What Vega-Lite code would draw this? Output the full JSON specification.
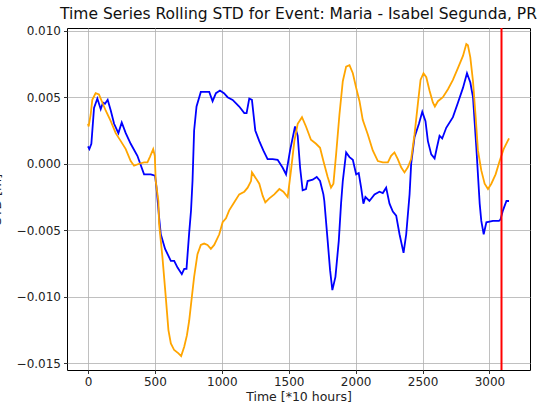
{
  "$schema": "https://vega.github.io/schema/vega-lite/v6.json",
  "width": 463,
  "height": 342,
  "autosize": {"type": "none"},
  "padding": {"left": 67, "top": 28, "right": 9, "bottom": 42},
  "background": "white",
  "title": {"text": "Time Series Rolling STD for Event: Maria - Isabel Segunda, PR", "font": "DejaVu Sans", "fontSize": 15.5, "fontWeight": "normal", "color": "#111", "anchor": "middle", "offset": 2},
  "config": {
    "view": {"stroke": "#000", "strokeWidth": 1},
    "axis": {"labelFont": "DejaVu Sans", "labelFontSize": 12, "labelColor": "#222", "titleFont": "DejaVu Sans", "titleFontSize": 12.5, "titleFontWeight": "normal", "titleColor": "#222", "gridColor": "#b0b0b0", "gridWidth": 0.8, "tickColor": "#000", "tickSize": 3.5, "tickWidth": 0.8, "domain": false, "labelPadding": 3}
  },
  "datasets": {
    "series": [
      {"t":0,"v":0.0013,"s":"obs"},{"t":10,"v":0.0011,"s":"obs"},{"t":25,"v":0.0015,"s":"obs"},{"t":45,"v":0.0042,"s":"obs"},{"t":70,"v":0.0049,"s":"obs"},{"t":95,"v":0.0041,"s":"obs"},{"t":112,"v":0.0046,"s":"obs"},{"t":127,"v":0.0045,"s":"obs"},{"t":147,"v":0.0048,"s":"obs"},{"t":170,"v":0.0040,"s":"obs"},{"t":195,"v":0.0030,"s":"obs"},{"t":227,"v":0.0023,"s":"obs"},{"t":252,"v":0.0031,"s":"obs"},{"t":282,"v":0.0023,"s":"obs"},{"t":319,"v":0.0015,"s":"obs"},{"t":369,"v":0.0006,"s":"obs"},{"t":419,"v":-0.0008,"s":"obs"},{"t":469,"v":-0.0008,"s":"obs"},{"t":501,"v":-0.0009,"s":"obs"},{"t":512,"v":-0.0018,"s":"obs"},{"t":531,"v":-0.0040,"s":"obs"},{"t":544,"v":-0.0053,"s":"obs"},{"t":576,"v":-0.0064,"s":"obs"},{"t":619,"v":-0.0073,"s":"obs"},{"t":644,"v":-0.0073,"s":"obs"},{"t":669,"v":-0.0078,"s":"obs"},{"t":701,"v":-0.0083,"s":"obs"},{"t":719,"v":-0.0079,"s":"obs"},{"t":736,"v":-0.0079,"s":"obs"},{"t":756,"v":-0.0052,"s":"obs"},{"t":770,"v":-0.0035,"s":"obs"},{"t":781,"v":-0.0013,"s":"obs"},{"t":793,"v":0.0025,"s":"obs"},{"t":811,"v":0.0043,"s":"obs"},{"t":843,"v":0.0054,"s":"obs"},{"t":906,"v":0.0054,"s":"obs"},{"t":931,"v":0.0047,"s":"obs"},{"t":956,"v":0.0053,"s":"obs"},{"t":986,"v":0.0055,"s":"obs"},{"t":1016,"v":0.0053,"s":"obs"},{"t":1043,"v":0.0050,"s":"obs"},{"t":1081,"v":0.0048,"s":"obs"},{"t":1130,"v":0.0043,"s":"obs"},{"t":1168,"v":0.0038,"s":"obs"},{"t":1185,"v":0.0038,"s":"obs"},{"t":1205,"v":0.0049,"s":"obs"},{"t":1225,"v":0.0048,"s":"obs"},{"t":1250,"v":0.0025,"s":"obs"},{"t":1280,"v":0.0017,"s":"obs"},{"t":1310,"v":0.0010,"s":"obs"},{"t":1342,"v":0.00035,"s":"obs"},{"t":1380,"v":0.00035,"s":"obs"},{"t":1417,"v":0.0003,"s":"obs"},{"t":1455,"v":-0.0003,"s":"obs"},{"t":1480,"v":-0.0008,"s":"obs"},{"t":1510,"v":0.0010,"s":"obs"},{"t":1547,"v":0.0028,"s":"obs"},{"t":1567,"v":0.0021,"s":"obs"},{"t":1585,"v":-0.0003,"s":"obs"},{"t":1604,"v":-0.0020,"s":"obs"},{"t":1629,"v":-0.0019,"s":"obs"},{"t":1641,"v":-0.0013,"s":"obs"},{"t":1679,"v":-0.0012,"s":"obs"},{"t":1709,"v":-0.0010,"s":"obs"},{"t":1734,"v":-0.0013,"s":"obs"},{"t":1759,"v":-0.0023,"s":"obs"},{"t":1766,"v":-0.0028,"s":"obs"},{"t":1791,"v":-0.0058,"s":"obs"},{"t":1809,"v":-0.0080,"s":"obs"},{"t":1826,"v":-0.0095,"s":"obs"},{"t":1849,"v":-0.0085,"s":"obs"},{"t":1874,"v":-0.0058,"s":"obs"},{"t":1891,"v":-0.0030,"s":"obs"},{"t":1904,"v":-0.0013,"s":"obs"},{"t":1929,"v":0.00085,"s":"obs"},{"t":1954,"v":0.0005,"s":"obs"},{"t":1979,"v":0.0003,"s":"obs"},{"t":2004,"v":-0.0008,"s":"obs"},{"t":2023,"v":-0.0007,"s":"obs"},{"t":2041,"v":-0.0018,"s":"obs"},{"t":2058,"v":-0.0030,"s":"obs"},{"t":2073,"v":-0.0025,"s":"obs"},{"t":2103,"v":-0.0028,"s":"obs"},{"t":2141,"v":-0.0023,"s":"obs"},{"t":2178,"v":-0.0021,"s":"obs"},{"t":2203,"v":-0.0022,"s":"obs"},{"t":2228,"v":-0.0018,"s":"obs"},{"t":2253,"v":-0.0030,"s":"obs"},{"t":2278,"v":-0.0036,"s":"obs"},{"t":2303,"v":-0.0039,"s":"obs"},{"t":2328,"v":-0.0053,"s":"obs"},{"t":2358,"v":-0.0067,"s":"obs"},{"t":2378,"v":-0.0053,"s":"obs"},{"t":2403,"v":-0.0023,"s":"obs"},{"t":2415,"v":0.0000,"s":"obs"},{"t":2440,"v":0.0020,"s":"obs"},{"t":2473,"v":0.0030,"s":"obs"},{"t":2498,"v":0.0039,"s":"obs"},{"t":2522,"v":0.0032,"s":"obs"},{"t":2540,"v":0.0017,"s":"obs"},{"t":2565,"v":0.0007,"s":"obs"},{"t":2590,"v":0.0004,"s":"obs"},{"t":2607,"v":0.0012,"s":"obs"},{"t":2627,"v":0.0021,"s":"obs"},{"t":2647,"v":0.0019,"s":"obs"},{"t":2677,"v":0.0027,"s":"obs"},{"t":2727,"v":0.0035,"s":"obs"},{"t":2765,"v":0.0046,"s":"obs"},{"t":2802,"v":0.0057,"s":"obs"},{"t":2832,"v":0.0068,"s":"obs"},{"t":2857,"v":0.0061,"s":"obs"},{"t":2877,"v":0.0050,"s":"obs"},{"t":2902,"v":0.0012,"s":"obs"},{"t":2927,"v":-0.0030,"s":"obs"},{"t":2939,"v":-0.0043,"s":"obs"},{"t":2957,"v":-0.0053,"s":"obs"},{"t":2977,"v":-0.0044,"s":"obs"},{"t":3026,"v":-0.0043,"s":"obs"},{"t":3071,"v":-0.0043,"s":"obs"},{"t":3082,"v":-0.0042,"s":"obs"},{"t":3101,"v":-0.0035,"s":"obs"},{"t":3127,"v":-0.0028,"s":"obs"},{"t":3146,"v":-0.0028,"s":"obs"},
      {"t":0,"v":0.0030,"s":"pred"},{"t":5,"v":0.0028,"s":"pred"},{"t":20,"v":0.0037,"s":"pred"},{"t":32,"v":0.0048,"s":"pred"},{"t":57,"v":0.0053,"s":"pred"},{"t":82,"v":0.0052,"s":"pred"},{"t":107,"v":0.0046,"s":"pred"},{"t":132,"v":0.0040,"s":"pred"},{"t":170,"v":0.0032,"s":"pred"},{"t":207,"v":0.0023,"s":"pred"},{"t":245,"v":0.0017,"s":"pred"},{"t":282,"v":0.0011,"s":"pred"},{"t":319,"v":0.0002,"s":"pred"},{"t":344,"v":-0.00015,"s":"pred"},{"t":382,"v":0.0000,"s":"pred"},{"t":419,"v":0.0001,"s":"pred"},{"t":444,"v":0.0001,"s":"pred"},{"t":462,"v":0.0005,"s":"pred"},{"t":487,"v":0.0011,"s":"pred"},{"t":499,"v":0.0006,"s":"pred"},{"t":506,"v":-0.0013,"s":"pred"},{"t":526,"v":-0.0028,"s":"pred"},{"t":531,"v":-0.0045,"s":"pred"},{"t":556,"v":-0.0070,"s":"pred"},{"t":581,"v":-0.0100,"s":"pred"},{"t":601,"v":-0.0125,"s":"pred"},{"t":619,"v":-0.0135,"s":"pred"},{"t":644,"v":-0.0140,"s":"pred"},{"t":676,"v":-0.01425,"s":"pred"},{"t":696,"v":-0.01445,"s":"pred"},{"t":719,"v":-0.01375,"s":"pred"},{"t":739,"v":-0.0129,"s":"pred"},{"t":756,"v":-0.0118,"s":"pred"},{"t":776,"v":-0.0100,"s":"pred"},{"t":793,"v":-0.0085,"s":"pred"},{"t":818,"v":-0.0068,"s":"pred"},{"t":843,"v":-0.0061,"s":"pred"},{"t":868,"v":-0.0060,"s":"pred"},{"t":893,"v":-0.0061,"s":"pred"},{"t":918,"v":-0.0064,"s":"pred"},{"t":943,"v":-0.0061,"s":"pred"},{"t":981,"v":-0.0053,"s":"pred"},{"t":1006,"v":-0.0044,"s":"pred"},{"t":1031,"v":-0.0041,"s":"pred"},{"t":1055,"v":-0.0035,"s":"pred"},{"t":1093,"v":-0.0029,"s":"pred"},{"t":1130,"v":-0.0023,"s":"pred"},{"t":1168,"v":-0.0021,"s":"pred"},{"t":1193,"v":-0.0018,"s":"pred"},{"t":1218,"v":-0.0013,"s":"pred"},{"t":1225,"v":-0.00065,"s":"pred"},{"t":1255,"v":-0.0011,"s":"pred"},{"t":1280,"v":-0.0015,"s":"pred"},{"t":1305,"v":-0.0024,"s":"pred"},{"t":1325,"v":-0.0029,"s":"pred"},{"t":1355,"v":-0.0026,"s":"pred"},{"t":1392,"v":-0.0023,"s":"pred"},{"t":1430,"v":-0.0019,"s":"pred"},{"t":1460,"v":-0.0021,"s":"pred"},{"t":1492,"v":-0.0025,"s":"pred"},{"t":1517,"v":-0.0005,"s":"pred"},{"t":1542,"v":0.0017,"s":"pred"},{"t":1567,"v":0.0030,"s":"pred"},{"t":1599,"v":0.0035,"s":"pred"},{"t":1629,"v":0.0028,"s":"pred"},{"t":1666,"v":0.0018,"s":"pred"},{"t":1704,"v":0.0015,"s":"pred"},{"t":1734,"v":0.0012,"s":"pred"},{"t":1759,"v":0.0002,"s":"pred"},{"t":1791,"v":-0.0010,"s":"pred"},{"t":1816,"v":-0.0018,"s":"pred"},{"t":1834,"v":-0.0015,"s":"pred"},{"t":1854,"v":0.0007,"s":"pred"},{"t":1879,"v":0.0037,"s":"pred"},{"t":1904,"v":0.0062,"s":"pred"},{"t":1929,"v":0.0073,"s":"pred"},{"t":1954,"v":0.0074,"s":"pred"},{"t":1979,"v":0.0068,"s":"pred"},{"t":2004,"v":0.0057,"s":"pred"},{"t":2029,"v":0.0047,"s":"pred"},{"t":2053,"v":0.0033,"s":"pred"},{"t":2091,"v":0.0022,"s":"pred"},{"t":2128,"v":0.0010,"s":"pred"},{"t":2166,"v":0.0002,"s":"pred"},{"t":2203,"v":0.0001,"s":"pred"},{"t":2241,"v":0.0001,"s":"pred"},{"t":2265,"v":0.0006,"s":"pred"},{"t":2290,"v":0.00085,"s":"pred"},{"t":2315,"v":0.00035,"s":"pred"},{"t":2340,"v":-0.00027,"s":"pred"},{"t":2365,"v":-0.00065,"s":"pred"},{"t":2390,"v":-0.00027,"s":"pred"},{"t":2415,"v":0.00035,"s":"pred"},{"t":2440,"v":0.0022,"s":"pred"},{"t":2465,"v":0.0045,"s":"pred"},{"t":2485,"v":0.0063,"s":"pred"},{"t":2507,"v":0.0068,"s":"pred"},{"t":2528,"v":0.0065,"s":"pred"},{"t":2552,"v":0.0055,"s":"pred"},{"t":2577,"v":0.0046,"s":"pred"},{"t":2592,"v":0.0043,"s":"pred"},{"t":2615,"v":0.0047,"s":"pred"},{"t":2652,"v":0.0050,"s":"pred"},{"t":2690,"v":0.0056,"s":"pred"},{"t":2727,"v":0.0063,"s":"pred"},{"t":2765,"v":0.0072,"s":"pred"},{"t":2802,"v":0.0081,"s":"pred"},{"t":2827,"v":0.0090,"s":"pred"},{"t":2839,"v":0.0089,"s":"pred"},{"t":2857,"v":0.0080,"s":"pred"},{"t":2877,"v":0.0062,"s":"pred"},{"t":2897,"v":0.0035,"s":"pred"},{"t":2914,"v":0.0010,"s":"pred"},{"t":2939,"v":-0.0005,"s":"pred"},{"t":2964,"v":-0.0015,"s":"pred"},{"t":2989,"v":-0.0019,"s":"pred"},{"t":3014,"v":-0.0015,"s":"pred"},{"t":3046,"v":-0.0008,"s":"pred"},{"t":3076,"v":0.0002,"s":"pred"},{"t":3106,"v":0.0011,"s":"pred"},{"t":3146,"v":0.0019,"s":"pred"}
    ],
    "marker": [{"t": 3090}]
  },
  "layer": [
    {
      "data": {"name": "series"},
      "mark": {"type": "line", "strokeWidth": 1.8, "clip": true},
      "encoding": {
        "x": {"field": "t", "type": "quantitative", "scale": {"domain": [-157, 3303], "nice": false, "zero": false}, "axis": {"title": "Time [*10 hours]", "values": [0, 500, 1000, 1500, 2000, 2500, 3000], "format": "d", "titlePadding": 3}},
        "y": {"field": "v", "type": "quantitative", "scale": {"domain": [-0.0155, 0.0102], "nice": false, "zero": false}, "axis": {"title": "STD [m]", "values": [-0.015, -0.01, -0.005, 0, 0.005, 0.01], "format": ".3f", "titlePadding": 13}},
        "color": {"field": "s", "type": "nominal", "scale": {"domain": ["pred", "obs"], "range": ["orange", "blue"]}, "legend": null}
      }
    },
    {
      "data": {"name": "marker"},
      "mark": {"type": "rule", "color": "red", "strokeWidth": 2},
      "encoding": {"x": {"field": "t", "type": "quantitative"}}
    }
  ]
}
